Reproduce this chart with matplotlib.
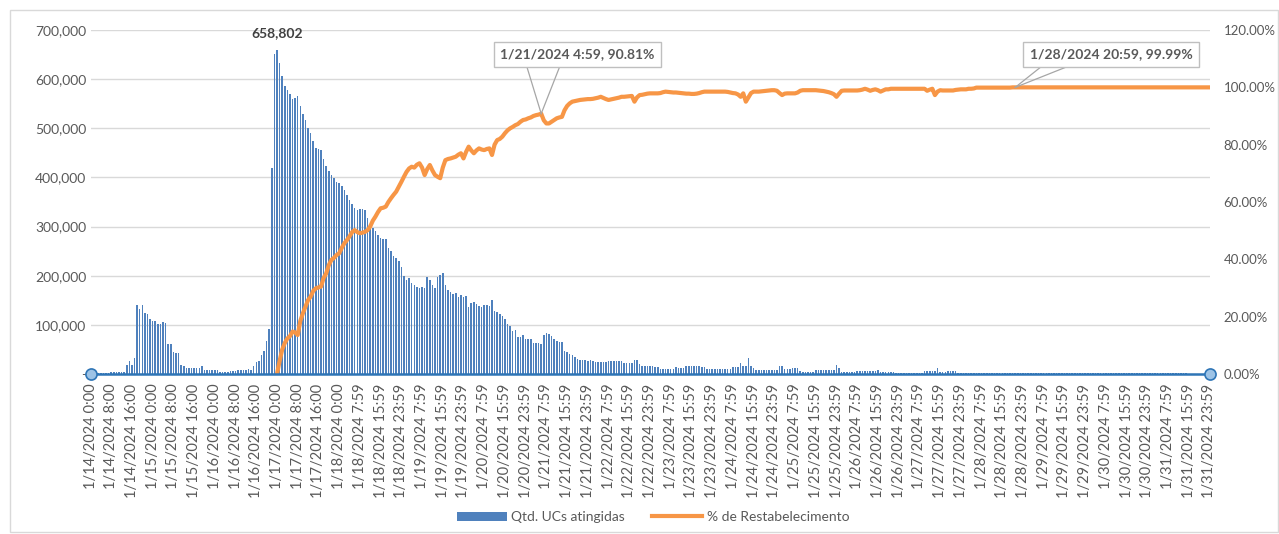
import numpy as np
import matplotlib
matplotlib.use("Agg")
import matplotlib.pyplot as plt
from matplotlib.patches import Rectangle, Patch
from matplotlib.lines import Line2D
from matplotlib.ticker import FuncFormatter, MultipleLocator

plt.rcParams['font.family'] = ['Lato', 'DejaVu Sans']

# hourly values, 1/14/2024 0:00 .. 1/31/2024 23:59 (thousands of UCs)
ucs_k = [
    2, 2, 2, 2, 3, 3, 3, 3,
    4, 4, 4, 4, 5, 5, 18, 27,
    18, 33, 141, 132, 141, 125, 122, 112,
    108, 107, 102, 102, 105, 103, 61, 62,
    44, 43, 43, 18, 16, 13, 13, 13,
    13, 13, 13, 16, 8, 8, 8, 8,
    8, 8, 5, 5, 5, 5, 6, 6,
    6, 8, 8, 8, 8, 11, 8, 16,
    24, 27, 39, 46, 67, 91, 419, 652,
    658.802, 632, 607, 586, 578, 569, 560, 562,
    566, 545, 530, 517, 500, 491, 474, 459,
    458, 456, 437, 424, 413, 405, 398, 390,
    388, 383, 375, 365, 355, 345, 338, 334,
    336, 335, 334, 318, 306, 298, 290, 283,
    276, 275, 275, 256, 250, 241, 236, 230,
    218, 200, 192, 195, 186, 181, 178, 175,
    178, 174, 198, 191, 181, 175, 198, 202,
    205, 182, 170, 167, 163, 165, 157, 160,
    157, 158, 136, 144, 146, 142, 139, 137,
    141, 140, 139, 151, 128, 126, 122, 118,
    112, 102, 98, 88, 90, 75, 75, 79,
    71, 71, 71, 64, 64, 63, 61, 79,
    83, 81, 78, 71, 68, 66, 66, 47,
    45, 41, 39, 35, 31, 29, 29, 29,
    26, 28, 27, 25, 24, 24, 24, 24,
    26, 26, 26, 26, 26, 27, 22, 22,
    22, 22, 29, 29, 20, 17, 17, 17,
    17, 17, 15, 15, 11, 11, 11, 11,
    11, 11, 14, 12, 12, 12, 16, 16,
    16, 16, 16, 16, 14, 14, 11, 11,
    11, 11, 11, 11, 11, 11, 11, 11,
    14, 14, 14, 22, 16, 16, 32, 17,
    12, 8, 8, 8, 8, 8, 8, 8,
    8, 8, 16, 16, 10, 10, 10, 13,
    13, 13, 6, 5, 5, 5, 5, 5,
    9, 9, 9, 9, 9, 9, 9, 9,
    18, 12, 4, 4, 4, 4, 4, 4,
    6, 6, 6, 7, 6, 6, 6, 6,
    9, 4, 4, 4, 4, 4, 4, 2,
    2, 2, 2, 2, 2, 2, 2, 2,
    2, 2, 7, 7, 7, 7, 7, 12,
    4, 4, 4, 6, 6, 6, 6, 2,
    2, 2, 2, 2, 2, 2, 2, 2,
    2, 2, 2, 2, 2, 2, 2, 2,
    2, 2, 2, 2, 2, 2, 2, 2,
    2, 2, 2, 2, 2, 2, 2, 1.5,
    1.5, 1.5, 1.5, 1.5, 1.5, 1.5, 1.5, 1.5,
    1.5, 1.5, 1.5, 1.5, 1.5, 1.5, 1.5, 1.5,
    1.5, 1.5, 1.5, 2, 2, 2, 2, 2,
    2, 2, 2, 2, 2, 2, 2, 2,
    2, 2, 2, 2, 2, 2, 2, 2,
    2, 2, 2, 2, 2, 2, 2, 2,
    2, 2, 2, 2, 2, 2, 2, 2,
    1, 1, 1, 1, 1, 1, 1, 1,
    1,
]

# % de Restabelecimento, starts at 1/17/2024 0:00 (hour index 72)
restab_start = 72
restab = [
    0, 4.5, 8.5, 10.8, 12.4, 13.2, 14.8, 14.5,
    13.6, 18.5, 21.2, 23.5, 25.8, 27.0, 29.0, 29.9,
    30.2, 30.5, 33.5, 35.1, 38.0, 39.8, 40.5, 41.5,
    42.1, 44.0, 45.6, 46.7, 48.0, 49.5, 50.2, 49.5,
    49.1, 49.3, 49.6, 50.2, 51.5, 53.5, 54.9, 56.5,
    57.8, 58.0, 58.4, 60.0, 61.3, 62.5, 63.6, 65.3,
    67.0, 68.8, 70.5, 71.7, 72.3, 72.0, 73.0, 73.5,
    72.0, 69.4, 71.5, 72.9, 71.0, 69.4, 68.8, 68.3,
    72.0, 74.6, 75.0, 75.2, 75.5, 75.8, 76.5, 77.0,
    75.2, 77.5, 79.3, 78.0, 77.0, 78.0, 78.7, 78.3,
    78.1, 78.5, 78.7, 76.4, 80.0, 81.6, 82.0, 82.8,
    84.0, 85.0, 85.7, 86.2, 86.8, 87.2, 88.0, 88.6,
    88.8, 89.2, 89.5, 90.0, 90.3, 90.5, 90.81, 88.5,
    87.4, 87.4, 88.0, 88.6, 89.2, 89.5, 89.7, 92.0,
    93.5, 94.4, 95.0, 95.2, 95.4, 95.6, 95.7, 95.8,
    95.9, 95.9, 96.0, 96.2, 96.4, 96.7, 96.3, 95.9,
    95.6, 95.8, 96.0, 96.2, 96.4, 96.7, 96.7, 96.8,
    96.9, 97.0, 95.0, 96.5, 97.3, 97.4, 97.6, 97.8,
    97.9, 97.9, 97.9, 97.9, 98.0, 98.3, 98.5, 98.4,
    98.3, 98.2, 98.2, 98.1, 98.0, 97.9, 97.8, 97.8,
    97.7, 97.7, 97.8, 98.0, 98.3, 98.5, 98.5, 98.5,
    98.5, 98.5, 98.5, 98.5, 98.5, 98.5, 98.4, 98.2,
    98.0, 97.9, 97.5, 96.7, 97.9, 95.0, 96.5, 98.0,
    98.5, 98.5, 98.5, 98.6, 98.7, 98.8, 98.9, 99.0,
    99.0, 98.8, 98.0, 97.3, 97.8, 97.9, 97.9, 97.9,
    97.9, 98.2, 98.8, 99.0, 99.0, 99.0, 99.0, 99.0,
    99.0, 98.9, 98.8, 98.7, 98.5, 98.3, 98.0, 97.6,
    96.7, 97.8, 98.8, 98.9, 98.9, 98.9, 98.9, 98.9,
    98.9, 99.0, 99.2, 99.5, 99.2, 98.8, 99.1, 99.3,
    99.0, 98.5, 98.9, 99.3, 99.3, 99.5, 99.5, 99.5,
    99.5, 99.5, 99.5, 99.5, 99.5, 99.5, 99.5, 99.5,
    99.5, 99.5, 99.5, 98.8, 99.2, 99.5, 97.3, 98.5,
    99.0, 98.9, 98.9, 98.9, 98.9, 98.9, 99.1, 99.2,
    99.3, 99.3, 99.3, 99.5, 99.5, 99.6, 99.9, 99.9,
    99.9, 99.9, 99.9, 99.9, 99.9, 99.9, 99.9, 99.9,
    99.9, 99.9, 99.9, 99.9, 99.99, 99.99, 99.99, 99.99,
    99.99, 99.99, 99.99, 99.99, 99.99, 99.99, 99.99, 99.99,
    99.99, 99.99, 99.99, 99.99, 99.99, 99.99, 99.99, 99.99,
    99.99, 99.99, 99.99, 99.99, 99.99, 99.99, 99.99, 99.99,
    99.99, 99.99, 99.99, 99.99, 99.99, 99.99, 99.99, 99.99,
    99.99, 99.99, 99.99, 99.99, 99.99, 99.99, 99.99, 99.99,
    99.99, 99.99, 99.99, 99.99, 99.99, 99.99, 99.99, 99.99,
    99.99, 99.99, 99.99, 99.99, 99.99, 99.99, 99.99, 99.99,
    99.99, 99.99, 99.99, 99.99, 99.99, 99.99, 99.99, 99.99,
    99.99, 99.99, 99.99, 99.99, 99.99, 99.99, 99.99, 99.99,
    99.99,
]

tick_labels = [
    "1/14/2024 0:00", "1/14/2024 8:00", "1/14/2024 16:00",
    "1/15/2024 0:00", "1/15/2024 8:00", "1/15/2024 16:00",
    "1/16/2024 0:00", "1/16/2024 8:00", "1/16/2024 16:00",
    "1/17/2024 0:00", "1/17/2024 8:00", "1/17/2024 16:00",
    "1/18/2024 0:00", "1/18/2024 7:59", "1/18/2024 15:59", "1/18/2024 23:59",
    "1/19/2024 7:59", "1/19/2024 15:59", "1/19/2024 23:59",
    "1/20/2024 7:59", "1/20/2024 15:59", "1/20/2024 23:59",
    "1/21/2024 7:59", "1/21/2024 15:59", "1/21/2024 23:59",
    "1/22/2024 7:59", "1/22/2024 15:59", "1/22/2024 23:59",
    "1/23/2024 7:59", "1/23/2024 15:59", "1/23/2024 23:59",
    "1/24/2024 7:59", "1/24/2024 15:59", "1/24/2024 23:59",
    "1/25/2024 7:59", "1/25/2024 15:59", "1/25/2024 23:59",
    "1/26/2024 7:59", "1/26/2024 15:59", "1/26/2024 23:59",
    "1/27/2024 7:59", "1/27/2024 15:59", "1/27/2024 23:59",
    "1/28/2024 7:59", "1/28/2024 15:59", "1/28/2024 23:59",
    "1/29/2024 7:59", "1/29/2024 15:59", "1/29/2024 23:59",
    "1/30/2024 7:59", "1/30/2024 15:59", "1/30/2024 23:59",
    "1/31/2024 7:59", "1/31/2024 15:59", "1/31/2024 23:59",
]

# (hour index, text, box offset in hours)
callouts = [(174, "1/21/2024 4:59, 90.81%", 14),
            (357, "1/28/2024 20:59, 99.99%", 37)]

blue = "#4f81bd"
orange = "#f79646"
grey = "#595959"

ucs = np.array(ucs_k) * 1000
x = np.arange(len(ucs))
pct = np.full(len(ucs), np.nan)
pct[restab_start:restab_start + len(restab)] = restab

fig = plt.figure(figsize=(12.79, 5.34), dpi=100)
fig.patches.append(Rectangle((10 / 1279, 2 / 534), 1268 / 1279, 522 / 534,
                             transform=fig.transFigure, fill=False,
                             edgecolor="#d9d9d9", linewidth=1))

ax = fig.add_axes([90.5 / 1279, 160 / 534, 1119 / 1279, 344 / 534])
ax.bar(x, ucs, width=0.6, color=blue, linewidth=0, zorder=2)
ax.set_xlim(x[0], x[-1])
ax.set_ylim(0, 700000)
ax.yaxis.set_major_locator(MultipleLocator(100000))
ax.yaxis.set_major_formatter(FuncFormatter(lambda v, p: "-" if v == 0 else f"{v:,.0f}"))
ax.grid(axis="y", color="#d9d9d9", linewidth=1, zorder=0)
ax.set_axisbelow(True)
for s in ax.spines.values():
    s.set_visible(False)
ax.tick_params(axis="both", length=0, colors=grey, labelsize=10)
ax.tick_params(axis="y", pad=3)
ax.set_xticks(x[::8])
ax.set_xticklabels(tick_labels, rotation=90, fontsize=10.5, color=grey)
ax.tick_params(axis="x", pad=7)

# peak data label
ipk = int(np.argmax(ucs))
ax.annotate(f"{ucs[ipk]:,.0f}", (x[ipk], ucs[ipk]), xytext=(0, 8),
            textcoords="offset points", ha="center", va="bottom",
            fontsize=10, fontweight="bold", color="#404040")

ax2 = ax.twinx()
ax2.set_position(ax.get_position())
ax2.plot(x, pct / 100, color=orange, linewidth=3, solid_joinstyle="round", zorder=3)
ax2.set_ylim(0, 1.2)
ax2.set_xlim(x[0], x[-1])
ax2.yaxis.set_major_locator(MultipleLocator(0.2))
ax2.yaxis.set_major_formatter(FuncFormatter(lambda v, p: f"{v * 100:.2f}%"))
for s in ax2.spines.values():
    s.set_visible(False)
ax2.tick_params(axis="y", length=0, colors=grey, labelsize=9.5, pad=10)

# selected axis line with handles
ax2.plot([x[0], x[-1]], [0, 0], color="#2e75b6", linewidth=1.8, zorder=4,
         clip_on=False)
ax2.plot([x[0], x[-1]], [0, 0], linestyle="none", marker="o", markersize=8,
         markerfacecolor="#9dc3e6", markeredgecolor="#2e75b6",
         markeredgewidth=1.2, zorder=5, clip_on=False)

# callouts
for idx, txt, off in callouts:
    py = pct[idx] / 100
    bx, by = idx + off, 1.115
    for dx in (-21, -5):
        ax2.plot([idx, bx + dx], [py, by], color="#a6a6a6", linewidth=0.9, zorder=5)
    ax2.text(bx, by, txt, ha="center", va="center", fontsize=10,
             fontweight="bold", color=grey, zorder=6,
             bbox=dict(boxstyle="square,pad=0.45", facecolor="white",
                       edgecolor="#bfbfbf", linewidth=1))

handles = [Patch(facecolor=blue, edgecolor="none"),
           Line2D([0], [0], color=orange, linewidth=3)]
fig.legend(handles, ["Qtd. UCs atingidas", "% de Restabelecimento"],
           loc="center", bbox_to_anchor=(653 / 1279, 17 / 534), ncol=2, frameon=False,
           fontsize=10, labelcolor=grey, handlelength=3.6, columnspacing=2.0,
           handletextpad=0.3, handleheight=0.6)

fig.savefig("out.png", dpi=100)
